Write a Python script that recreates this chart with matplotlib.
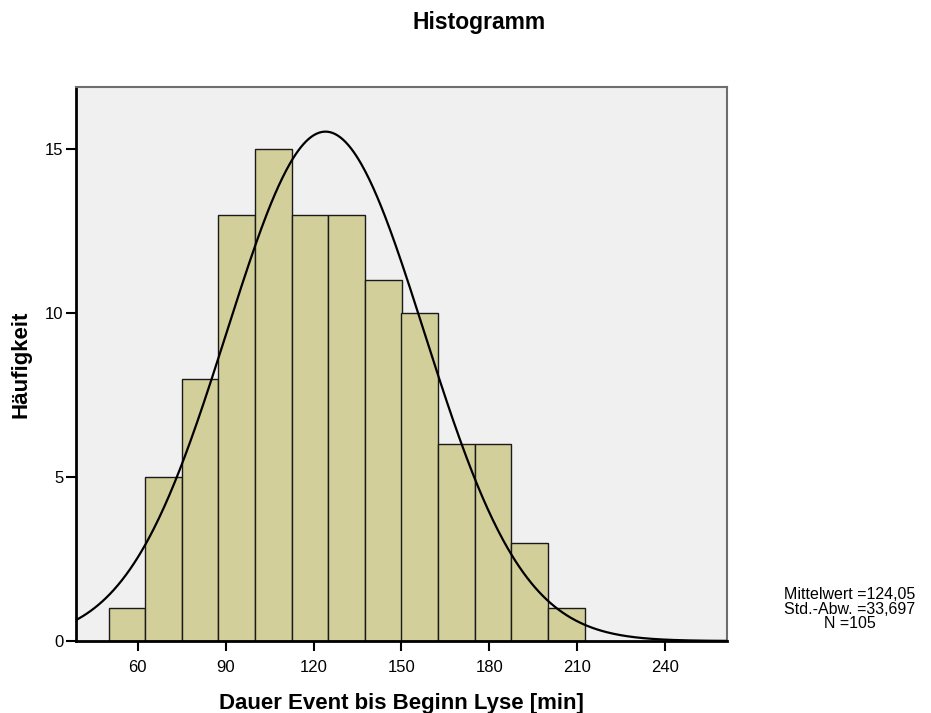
import numpy as np
import matplotlib
matplotlib.use("Agg")
import matplotlib.pyplot as plt

# Histogram data (bin width 12.5)
bin_edges = [50, 62.5, 75, 87.5, 100, 112.5, 125, 137.5, 150, 162.5, 175, 187.5, 200, 212.5]
counts = [1, 5, 8, 13, 15, 13, 13, 11, 10, 6, 6, 3, 1]
mean = 124.05
std = 33.697
n = 105
xticks = [60, 90, 120, 150, 180, 210, 240]
yticks = [0, 5, 10, 15]

plt.rcParams['font.family'] = ['Liberation Sans', 'DejaVu Sans']

fig = plt.figure(figsize=(9.31, 7.13), dpi=100)
ax = fig.add_axes([76 / 931, 1 - 641 / 713, (727 - 76) / 931, (641 - 87) / 713])
ax.set_facecolor('#f0f0f0')

lefts = bin_edges[:-1]
widths = np.diff(bin_edges)
ax.bar(lefts, counts, width=widths, align='edge', color='#d3cf9b',
       edgecolor='#1a1a1a', linewidth=1.0, zorder=2)

# normal curve scaled to counts
xs = np.linspace(38, 262, 500)
bw = widths[0]
ys = n * bw / (std * np.sqrt(2 * np.pi)) * np.exp(-0.5 * ((xs - mean) / std) ** 2)
ax.plot(xs, ys, color='black', linewidth=1.6, zorder=3)

ax.set_xlim(38.9, 261.1)
ax.set_ylim(0, 16.9)
ax.set_xticks(xticks)
ax.set_yticks(yticks)
ax.tick_params(direction='out', length=7, width=1.5, labelsize=12, color='black')
ax.tick_params(axis='x', pad=7)
ax.tick_params(axis='y', pad=2)

for side in ['left', 'bottom']:
    ax.spines[side].set_linewidth(2)
    ax.spines[side].set_color('black')
for side in ['top', 'right']:
    ax.spines[side].set_linewidth(1.5)
    ax.spines[side].set_color('#6e6e6e')

ax.set_xlabel('Dauer Event bis Beginn Lyse [min]', fontsize=16, fontweight='bold', labelpad=13)
ax.set_ylabel('Häufigkeit', fontsize=16, fontweight='bold', labelpad=10)

fig.text(479 / 931, 1 - 29 / 713, 'Histogramm', ha='center', va='baseline',
         fontsize=16.5, fontweight='bold')
fig.text(850 / 931, 1 - 609 / 713, 'Mittelwert =124,05\nStd.-Abw. =33,697\nN =105',
         ha='center', va='center', fontsize=11.5, linespacing=0.95)

fig.savefig('out.png', dpi=100)
